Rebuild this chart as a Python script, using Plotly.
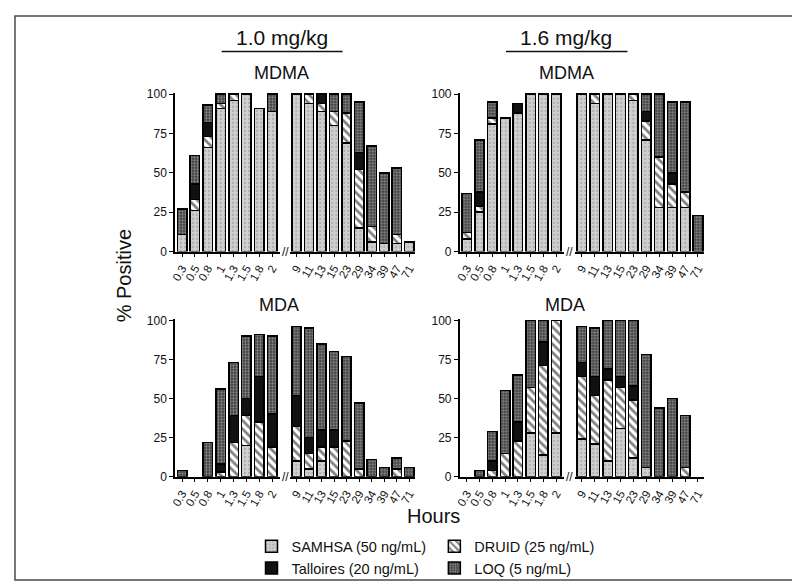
import plotly.graph_objects as go

W, H = 800, 583

hours_early = ["0.3", "0.5", "0.8", "1", "1.3", "1.5", "1.8", "2"]
hours_late = ["9", "11", "13", "15", "23", "29", "34", "39", "47", "71"]

series_names = ["SAMHSA (50 ng/mL)", "DRUID (25 ng/mL)", "Talloires (20 ng/mL)", "LOQ (5 ng/mL)"]

# Segment heights (% positive added at each cutoff), 18 time points (early 8 + late 10)
mdma_10_samhsa = [11, 26, 66, 91, 96, 100, 91, 89, 100, 94, 89, 80, 69, 15, 6, 5, 5, 6]
mdma_10_druid = [0, 7, 7, 3, 4, 0, 0, 0, 0, 6, 5, 9, 19, 37, 10, 0, 6, 0]
mdma_10_talloires = [0, 10, 9, 0, 0, 0, 0, 0, 0, 0, 6, 0, 0, 11, 0, 0, 0, 0]
mdma_10_loq = [16, 18, 11, 6, 0, 0, 0, 11, 0, 0, 0, 11, 12, 32, 51, 45, 42, 0]

mdma_16_samhsa = [8, 25, 81, 85, 88, 100, 100, 100, 100, 94, 100, 100, 96, 71, 28, 28, 28, 0]
mdma_16_druid = [4, 4, 4, 0, 0, 0, 0, 0, 0, 6, 0, 0, 4, 12, 32, 15, 10, 0]
mdma_16_talloires = [0, 9, 0, 0, 6, 0, 0, 0, 0, 0, 0, 0, 0, 6, 0, 7, 0, 0]
mdma_16_loq = [25, 33, 10, 0, 0, 0, 0, 0, 0, 0, 0, 0, 0, 11, 40, 45, 57, 23]

mda_10_samhsa = [0, 0, 0, 0, 0, 20, 0, 0, 10, 5, 10, 0, 0, 0, 0, 0, 0, 0]
mda_10_druid = [0, 0, 0, 3, 22, 19, 35, 19, 22, 10, 9, 19, 23, 5, 0, 0, 5, 0]
mda_10_talloires = [0, 0, 0, 5, 17, 11, 29, 21, 20, 10, 11, 11, 0, 0, 0, 0, 0, 0]
mda_10_loq = [4, 0, 22, 48, 34, 40, 27, 50, 44, 70, 55, 50, 54, 42, 11, 6, 7, 6]

mda_16_samhsa = [0, 0, 0, 0, 0, 28, 14, 28, 24, 21, 10, 31, 12, 6, 0, 0, 0, 0]
mda_16_druid = [0, 0, 4, 15, 23, 29, 57, 72, 40, 31, 52, 26, 37, 0, 0, 0, 6, 0]
mda_16_talloires = [0, 0, 6, 0, 12, 0, 15, 0, 9, 12, 7, 7, 9, 0, 0, 0, 0, 0]
mda_16_loq = [0, 4, 19, 40, 30, 43, 14, 0, 23, 31, 31, 36, 42, 72, 44, 50, 33, 0]

panels_data = [
    [mdma_10_samhsa, mdma_10_druid, mdma_10_talloires, mdma_10_loq],
    [mdma_16_samhsa, mdma_16_druid, mdma_16_talloires, mdma_16_loq],
    [mda_10_samhsa, mda_10_druid, mda_10_talloires, mda_10_loq],
    [mda_16_samhsa, mda_16_druid, mda_16_talloires, mda_16_loq],
]

styles = [
    dict(color="#cfcfcf", pattern=dict(shape=".", bgcolor="#cfcfcf", fgcolor="#8c8c8c", size=4, solidity=0.25)),
    dict(color="#ffffff", pattern=dict(shape="\\", bgcolor="#ffffff", fgcolor="#000000", size=6, solidity=0.45)),
    dict(color="#111111", pattern=dict(shape="")),
    dict(color="#3a3a3a", pattern=dict(shape=".", bgcolor="#3a3a3a", fgcolor="#d8d8d8", size=3, solidity=0.45)),
]
legend_of = ["legend", "legend2", "legend", "legend2"]


def px_x(p):
    return p / W


def px_y(p):
    return 1 - p / H


# panel geometry in pixels: (y-axis x, left end, right start, right end, zero y, px per unit)
geom = [
    (163.0, 268.5, 279.0, 405.0, 243.0, 1.61),
    (449.5, 554.3, 565.8, 695.8, 243.0, 1.61),
    (163.0, 268.5, 279.0, 405.0, 473.3, 1.60),
    (449.5, 554.3, 565.8, 695.8, 473.3, 1.60),
]

YMAX = 100.8
fig = go.Figure()
layout = dict(
    width=W, height=H, margin=dict(l=0, r=0, t=0, b=0),
    paper_bgcolor="white", plot_bgcolor="rgba(0,0,0,0)",
    barmode="stack", bargap=0.26, showlegend=True,
    font=dict(family="Liberation Sans, Arial, sans-serif", color="#111111"),
)

for pi, data in enumerate(panels_data):
    xl = "x" if pi == 0 else f"x{2 * pi + 1}"
    xr = f"x{2 * pi + 2}"
    yk = "y" if pi == 0 else f"y{pi + 1}"
    for si in range(4):
        vals = data[si]
        early = [v if v else None for v in vals[:8]]
        late = [v if v else None for v in vals[8:]]
        st = styles[si]
        marker = dict(color=st["color"], pattern=st["pattern"], line=dict(color="#000000", width=1.5))
        fig.add_trace(go.Bar(x=hours_early, y=early, xaxis=xl, yaxis=yk, name=series_names[si],
                             marker=marker, legendgroup=series_names[si], legend=legend_of[si],
                             showlegend=(pi == 0)))
        fig.add_trace(go.Bar(x=hours_late, y=late, xaxis=xr, yaxis=yk, name=series_names[si],
                             marker=marker, legendgroup=series_names[si], legend=legend_of[si],
                             showlegend=False))

    yax, l1, r0, r1, y0, ppu = geom[pi]
    ytop = y0 - ppu * YMAX
    common_x = dict(type="category", showline=True, linecolor="#000", linewidth=1.5,
                    ticks="outside", ticklen=4, tickwidth=1.2, tickcolor="#000",
                    tickangle=-60, tickfont=dict(size=11.5), showgrid=False, zeroline=False,
                    anchor=yk, fixedrange=True, tickmode="array")
    xlname = "xaxis" if pi == 0 else f"xaxis{2 * pi + 1}"
    xrname = f"xaxis{2 * pi + 2}"
    ylname = "yaxis" if pi == 0 else f"yaxis{pi + 1}"
    layout[xlname] = dict(common_x, domain=[px_x(yax), px_x(l1)], range=[-0.55, 7.6],
                          categoryorder="array", categoryarray=hours_early,
                          tickvals=hours_early, ticktext=hours_early)
    layout[xrname] = dict(common_x, domain=[px_x(r0), px_x(r1)], range=[-0.5, 9.5],
                          categoryorder="array", categoryarray=hours_late,
                          tickvals=hours_late, ticktext=hours_late)
    layout[ylname] = dict(domain=[px_y(y0), px_y(ytop)], range=[0, YMAX], anchor=xl,
                          tickvals=[0, 25, 50, 75, 100], ticks="outside", ticklen=4,
                          tickwidth=1.2, tickcolor="#000", showline=True, linecolor="#000",
                          linewidth=1.5, tickfont=dict(size=12), showgrid=False,
                          zeroline=False, fixedrange=True)

layout["legend"] = dict(x=px_x(240), y=px_y(528), xanchor="left", yanchor="top",
                        font=dict(size=14.5), bgcolor="rgba(0,0,0,0)", tracegroupgap=0)
layout["legend2"] = dict(x=px_x(424), y=px_y(528), xanchor="left", yanchor="top",
                         font=dict(size=14.5), bgcolor="rgba(0,0,0,0)", tracegroupgap=0)

annotations = []


def add_text(txt, x, y, size, angle=0):
    annotations.append(dict(text=txt, x=px_x(x), y=px_y(y), xref="paper", yref="paper",
                            showarrow=False, font=dict(size=size, color="#111111"),
                            textangle=angle, xanchor="center", yanchor="middle"))


add_text("1.0 mg/kg", 270.8, 24, 21)
add_text("1.6 mg/kg", 556.7, 24, 21)
add_text("MDMA", 270, 60, 18)
add_text("MDMA", 556.7, 60, 18)
add_text("MDA", 268, 298, 18)
add_text("MDA", 555, 298, 18)
add_text("% Positive", 112, 268, 20, angle=-90)
add_text("Hours", 423, 513, 20)
for (yax, l1, r0, r1, y0, ppu) in geom:
    add_text("//", (l1 + r0) / 2, y0, 12)

shapes = [
    dict(type="rect", xref="paper", yref="paper", x0=px_x(2), x1=px_x(797), y0=px_y(579), y1=px_y(2),
         line=dict(color="#4a4a4a", width=1.5)),
    dict(type="line", xref="paper", yref="paper", x0=px_x(210), x1=px_x(331.7), y0=px_y(38.3), y1=px_y(38.3),
         line=dict(color="#111", width=1.5)),
    dict(type="line", xref="paper", yref="paper", x0=px_x(496), x1=px_x(618.3), y0=px_y(38.3), y1=px_y(38.3),
         line=dict(color="#111", width=1.5)),
]
layout["annotations"] = annotations
layout["shapes"] = shapes

fig.update_layout(**layout)
fig.write_html("out.html")
